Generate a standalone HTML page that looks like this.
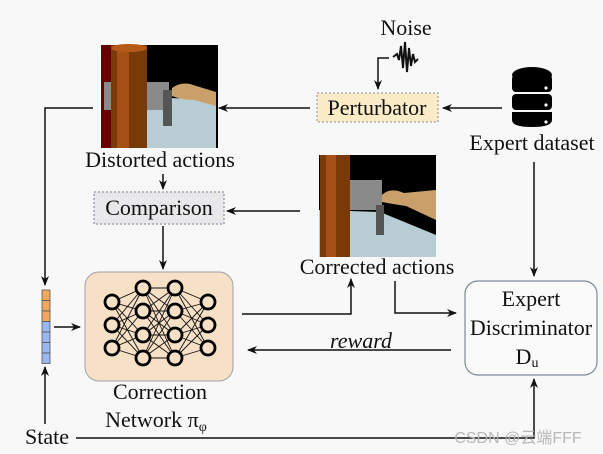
<!DOCTYPE html>
<html><head><meta charset="utf-8"><style>
html,body{margin:0;padding:0;background:#f8f8f8;}
svg{display:block;}
</style></head><body>
<svg width="603" height="454" viewBox="0 0 603 454" xmlns="http://www.w3.org/2000/svg" font-family="'Liberation Serif', 'Times New Roman', serif">
<defs>
<marker id="a" markerWidth="10" markerHeight="8" refX="9" refY="4" orient="auto" markerUnits="userSpaceOnUse">
<path d="M0,0 L10,4 L0,8 L3,4 z" fill="#111"/></marker>
</defs>
<rect width="603" height="454" fill="#f8f8f8"/>

<!-- image 1 -->
<g>
<rect x="101" y="45" width="117" height="103" fill="#000"/>
<polygon points="101,100 101,148 216,148 216,100 170,98" fill="#b8cdd3"/>
<rect x="101" y="45" width="10" height="103" fill="#600"/>
<rect x="104" y="82" width="65" height="28" fill="#8a8a8a"/>
<rect x="163" y="90" width="9" height="36" fill="#555"/>
<rect x="111" y="45" width="36" height="103" fill="#7a3a08"/>
<rect x="117" y="45" width="12" height="103" fill="#a65015"/>
<ellipse cx="129" cy="48" rx="18" ry="4" fill="#b65a18"/>
<path d="M172,88 q8,-6 18,-4 l26,8 v14 l-22,-6 q-12,0 -22,-4z" fill="#c9a06a"/>
</g>

<!-- image 2 -->
<g>
<rect x="319" y="155" width="117" height="102" fill="#000"/>
<polygon points="319,210 319,257 436,257 436,235 380,212" fill="#b8cdd3"/>
<rect x="322" y="180" width="60" height="30" fill="#8a8a8a"/>
<rect x="376" y="205" width="8" height="30" fill="#555"/>
<rect x="320" y="155" width="30" height="102" fill="#7a3a08"/>
<rect x="326" y="155" width="10" height="102" fill="#a65015"/>
<path d="M382,195 q8,-8 22,-2 l32,-3 v30 l-30,-14 q-14,-2 -24,-4z" fill="#c9a06a"/>
</g>

<!-- Noise -->
<text x="406" y="35" font-size="22" text-anchor="middle" fill="#111">Noise</text>
<path d="M393,57 l4,-3 l2,6 l2,-14 l2,22 l2,-26 l2,30 l2,-24 l2,18 l2,-12 l2,8 l3,-3" fill="none" stroke="#111" stroke-width="2"/>
<path d="M389,58 H378 V89" fill="none" stroke="#111" stroke-width="1.5" marker-end="url(#a)"/>

<!-- Perturbator -->
<rect x="317" y="93" width="121" height="29" fill="#fbecc8" stroke="#8a8a9a" stroke-width="1" stroke-dasharray="2,2"/>
<text x="377" y="115" font-size="22" text-anchor="middle" fill="#111">Perturbator</text>
<line x1="502" y1="108" x2="443" y2="108" stroke="#111" stroke-width="1.5" marker-end="url(#a)"/>
<line x1="310" y1="108" x2="219" y2="108" stroke="#111" stroke-width="1.5" marker-end="url(#a)"/>

<!-- database -->
<g fill="#000">
<ellipse cx="532" cy="75" rx="20" ry="8"/>
<rect x="512" y="75" width="40" height="17" rx="4"/>
<rect x="512" y="94" width="40" height="16" rx="4"/>
<path d="M512,112 h40 v8 q0,7 -20,7 q-20,0 -20,-7z"/>
</g>
<circle cx="546" cy="88" r="1.6" fill="#fff"/>
<circle cx="546" cy="105" r="1.6" fill="#fff"/>
<circle cx="546" cy="122" r="1.6" fill="#fff"/>
<text x="532" y="150" font-size="22" text-anchor="middle" fill="#111">Expert dataset</text>
<line x1="534" y1="162" x2="534" y2="276" stroke="#111" stroke-width="1.5" marker-end="url(#a)"/>

<!-- Distorted -->
<text x="160" y="167" font-size="22" text-anchor="middle" fill="#111">Distorted actions</text>
<line x1="163" y1="174" x2="163" y2="189" stroke="#111" stroke-width="1.5" marker-end="url(#a)"/>
<rect x="94" y="192" width="130" height="32" fill="#e8e8ea" stroke="#7a7a9a" stroke-width="1" stroke-dasharray="2,2"/>
<text x="159" y="215" font-size="22" text-anchor="middle" fill="#111">Comparison</text>
<line x1="300" y1="211" x2="227" y2="211" stroke="#111" stroke-width="1.5" marker-end="url(#a)"/>
<line x1="163" y1="226" x2="163" y2="269" stroke="#111" stroke-width="1.5" marker-end="url(#a)"/>

<!-- left loop -->
<path d="M93,108 H45 V285" fill="none" stroke="#111" stroke-width="1.5" marker-end="url(#a)"/>

<!-- state vector -->
<g stroke="#555" stroke-width="0.8">
<rect x="42" y="290" width="8" height="10.5" fill="#f0a860"/>
<rect x="42" y="300.5" width="8" height="10.5" fill="#f0a860"/>
<rect x="42" y="311" width="8" height="10.5" fill="#f0a860"/>
<rect x="42" y="321.5" width="8" height="10.5" fill="#9ab8f0"/>
<rect x="42" y="332" width="8" height="10.5" fill="#9ab8f0"/>
<rect x="42" y="342.5" width="8" height="10.5" fill="#9ab8f0"/>
<rect x="42" y="353" width="8" height="10.5" fill="#9ab8f0"/>
</g>
<line x1="54" y1="327" x2="80" y2="327" stroke="#111" stroke-width="1.5" marker-end="url(#a)"/>

<!-- network -->
<rect x="85" y="272" width="148" height="109" rx="14" fill="#f6e0c6" stroke="#a0a0a8" stroke-width="1"/>
<g stroke="#111" stroke-width="0.9">
<path d="M112,302 L143,288 M112,302 L143,311 M112,302 L143,335 M112,302 L143,358 M112,325 L143,288 M112,325 L143,311 M112,325 L143,335 M112,325 L143,358 M112,348 L143,288 M112,348 L143,311 M112,348 L143,335 M112,348 L143,358"/>
<path d="M143,288 L175,288 M143,288 L175,311 M143,288 L175,335 M143,288 L175,358 M143,311 L175,288 M143,311 L175,311 M143,311 L175,335 M143,311 L175,358 M143,335 L175,288 M143,335 L175,311 M143,335 L175,335 M143,335 L175,358 M143,358 L175,288 M143,358 L175,311 M143,358 L175,335 M143,358 L175,358"/>
<path d="M175,288 L208,302 M175,288 L208,325 M175,288 L208,348 M175,311 L208,302 M175,311 L208,325 M175,311 L208,348 M175,335 L208,302 M175,335 L208,325 M175,335 L208,348 M175,358 L208,302 M175,358 L208,325 M175,358 L208,348"/>
</g>
<g fill="#f6e0c6" stroke="#000" stroke-width="2.8">
<circle cx="112" cy="302" r="7"/><circle cx="112" cy="325" r="7"/><circle cx="112" cy="348" r="7"/>
<circle cx="143" cy="288" r="7"/><circle cx="143" cy="311" r="7"/><circle cx="143" cy="335" r="7"/><circle cx="143" cy="358" r="7"/>
<circle cx="175" cy="288" r="7"/><circle cx="175" cy="311" r="7"/><circle cx="175" cy="335" r="7"/><circle cx="175" cy="358" r="7"/>
<circle cx="208" cy="302" r="7"/><circle cx="208" cy="325" r="7"/><circle cx="208" cy="348" r="7"/>
</g>
<text x="160" y="399" font-size="22" text-anchor="middle" fill="#111">Correction</text>
<text x="156" y="427" font-size="22" text-anchor="middle" fill="#111">Network π<tspan font-size="14" dy="4">φ</tspan></text>

<!-- corrected -->
<text x="377" y="274" font-size="22" text-anchor="middle" fill="#111">Corrected actions</text>
<path d="M242,314 H351 V279" fill="none" stroke="#111" stroke-width="1.5" marker-end="url(#a)"/>
<path d="M395,281 V313 H456" fill="none" stroke="#111" stroke-width="1.5" marker-end="url(#a)"/>
<text x="361" y="348" font-size="22" font-style="italic" text-anchor="middle" fill="#111">reward</text>
<line x1="451" y1="350" x2="248" y2="350" stroke="#111" stroke-width="1.5" marker-end="url(#a)"/>

<!-- discriminator -->
<rect x="465" y="281" width="132" height="94" rx="13" fill="#fafafa" stroke="#7a8a9c" stroke-width="1.2"/>
<text x="531" y="306" font-size="22" text-anchor="middle" fill="#111">Expert</text>
<text x="531" y="335" font-size="22" text-anchor="middle" fill="#111">Discriminator</text>
<text x="527" y="364" font-size="22" text-anchor="middle" fill="#111">D<tspan font-size="14" dy="3">u</tspan></text>

<!-- state -->
<text x="47" y="444" font-size="22" text-anchor="middle" fill="#111">State</text>
<line x1="45" y1="424" x2="45" y2="367" stroke="#111" stroke-width="1.5" marker-end="url(#a)"/>
<path d="M76,438 H534 V379" fill="none" stroke="#111" stroke-width="1.5" marker-end="url(#a)"/>

<text x="518" y="443" font-size="16" text-anchor="middle" font-family="'Liberation Sans','Noto Sans CJK SC',sans-serif" fill="#b8b8b8">CSDN @云端FFF</text>
</svg>
</body></html>
